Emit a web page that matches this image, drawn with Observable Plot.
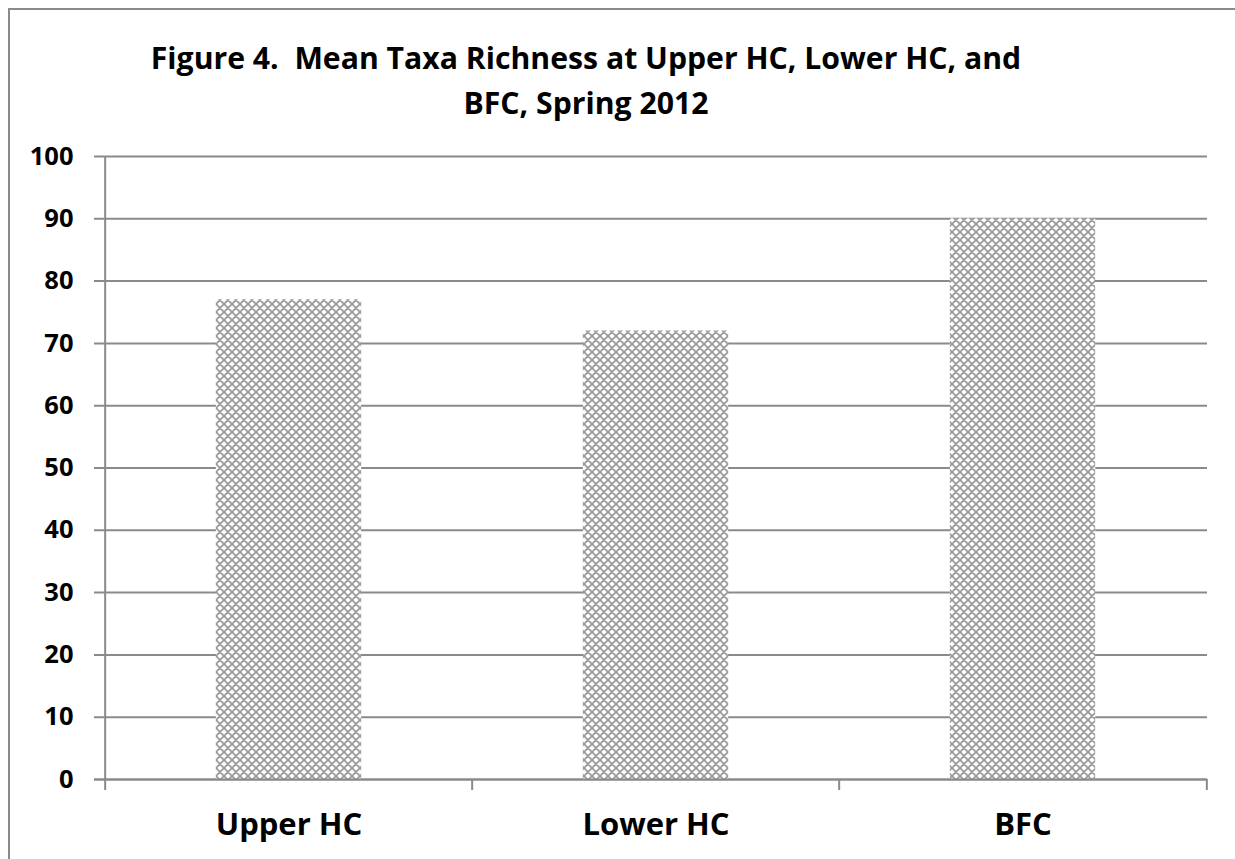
<!DOCTYPE html>
<html>
<head>
<meta charset="utf-8">
<script src="https://cdn.jsdelivr.net/npm/d3@7"></script>
<script src="https://cdn.jsdelivr.net/npm/@observablehq/plot@0.6"></script>
<style>
  html, body { margin: 0; padding: 0; background: #fff; overflow: hidden; }
  #wrap { position: relative; width: 1235px; height: 859px; overflow: hidden; }
  #frame { position: absolute; left: 8px; top: 8px; width: 1400px; height: 1000px; border: 2px solid #8a8a8a; box-sizing: border-box; }
  #title { position: relative; width: 1172px; height: 120px; box-sizing: border-box; padding-top: 35px;
           text-align: center; font-family: "Open Sans", sans-serif; font-weight: 700; font-size: 30.2px;
           line-height: 45px; color: #000; }
  #chart { position: absolute; left: 0; top: 120px; }
</style>
</head>
<body>
<div id="wrap">
  <div id="frame"></div>
  <div id="title">Figure 4.&nbsp; Mean Taxa Richness at Upper HC, Lower HC, and<br>BFC, Spring 2012</div>
  <div id="chart"></div>
</div>
<script>
const categories = ["Upper HC", "Lower HC", "BFC"];
const richness = [77, 72, 90];
const yTicks = [0, 10, 20, 30, 40, 50, 60, 70, 80, 90, 100];

const data = categories.map((c, i) => ({site: c, value: richness[i]}));

const W = 1235, H = 739;
const mL = 104, mR = 28, mT = 36, mB = 80;
const step = (W - mL - mR) / categories.length;
const barW = 146;
const inset = (step - barW) / 2;
const gridColor = "#8a8a8a";

const plot = Plot.plot({
  width: W,
  height: H,
  marginLeft: mL,
  marginRight: mR,
  marginTop: mT,
  marginBottom: mB,
  style: {fontFamily: "Open Sans, sans-serif", fontWeight: 700, color: "#000", background: "transparent", overflow: "visible"},
  x: {domain: categories, padding: 0, label: null},
  y: {domain: [0, 100], label: null},
  marks: [
    Plot.ruleY(yTicks, {y: d => d, stroke: gridColor, strokeWidth: 2, insetLeft: -10}),
    Plot.barY(data, {x: "site", y: "value", fill: "url(#xhatch)", insetLeft: inset, insetRight: inset}),
    Plot.ruleY(yTicks, {y: d => d, stroke: gridColor, strokeWidth: 2, insetLeft: -10, filter: d => d === 0}),
    Plot.ruleX(categories.slice(0, 1), {x: d => d, dx: -step / 2, stroke: gridColor, strokeWidth: 2}),
    Plot.ruleX(categories, {x: d => d, dx: -step / 2, y1: 0, y2: 0, insetBottom: -11, stroke: gridColor, strokeWidth: 2}),
    Plot.ruleX(categories.slice(-1), {x: d => d, dx: step / 2, y1: 0, y2: 0, insetBottom: -11, stroke: gridColor, strokeWidth: 2}),
    Plot.axisY(yTicks, {tickSize: 0, tickPadding: 31, fontSize: 25.5, fontWeight: 700, fill: "#000"}),
    Plot.axisX({tickSize: 0, tickPadding: 33, fontSize: 31, fontWeight: 700, fill: "#000"})
  ]
});

const svg = d3.select(plot);
const defs = svg.insert("defs", ":first-child");
const pat = defs.append("pattern")
  .attr("id", "xhatch")
  .attr("patternUnits", "userSpaceOnUse")
  .attr("width", 8).attr("height", 8);
pat.append("rect").attr("width", 8).attr("height", 8).attr("fill", "#ffffff");
pat.append("path").attr("d", "M0,0L8,8M8,0L0,8M-1,7L1,9M7,-1L9,1M-1,1L1,-1M7,9L9,7")
  .attr("stroke", "#9a9a9a").attr("stroke-width", 1.8).attr("fill", "none");

document.getElementById("chart").appendChild(plot);
</script>
</body>
</html>
